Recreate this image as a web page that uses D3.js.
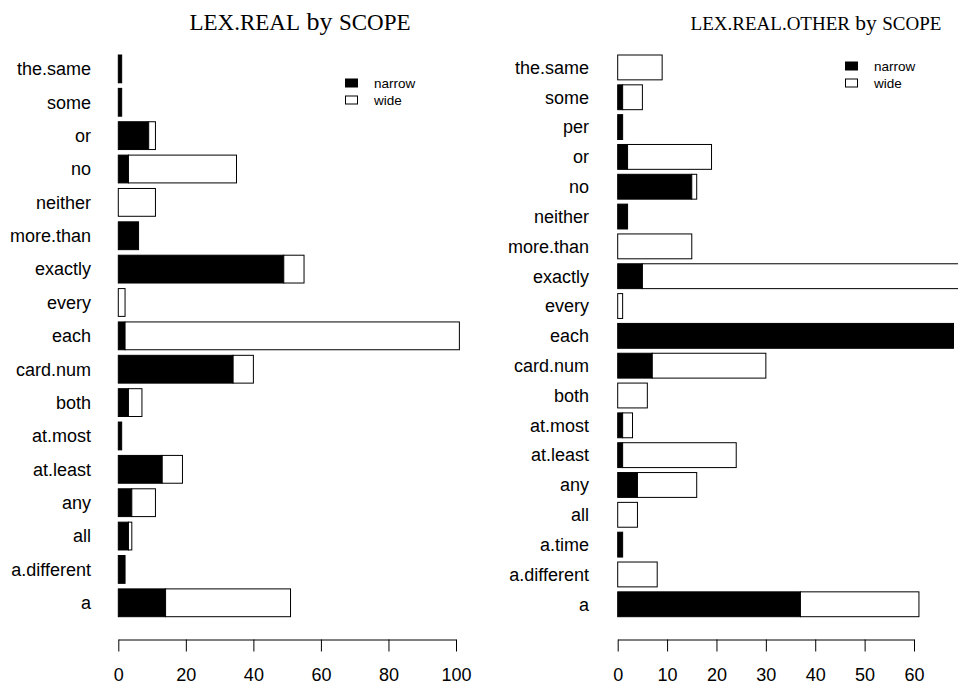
<!DOCTYPE html>
<html>
<head>
<meta charset="utf-8">
<script src="https://cdn.jsdelivr.net/npm/d3@7"></script>
<style>
  body { margin: 0; background: #fff; }
  text { fill: #000; }
</style>
</head>
<body>
<svg id="chart" width="958" height="685"></svg>
<script>
// categories, top to bottom
var realCats = ["the.same", "some", "or", "no", "neither", "more.than", "exactly", "every",
  "each", "card.num", "both", "at.most", "at.least", "any", "all", "a.different", "a"];
var realNarrow = [1, 1, 9, 3, 0, 6, 49, 0, 2, 34, 3, 1, 13, 4, 3, 2, 14];
var realWide   = [0, 0, 2, 32, 11, 0, 6, 2, 99, 6, 4, 0, 6, 7, 1, 0, 37];

var otherCats = ["the.same", "some", "per", "or", "no", "neither", "more.than", "exactly", "every",
  "each", "card.num", "both", "at.most", "at.least", "any", "all", "a.time", "a.different", "a"];
var otherNarrow = [0, 1, 1, 2, 15, 2, 0, 5, 0, 68, 7, 0, 1, 1, 4, 0, 1, 0, 37];
var otherWide   = [9, 4, 0, 17, 1, 0, 15, 75, 1, 0, 23, 6, 2, 23, 12, 4, 0, 8, 24];

var realTicks = [0, 20, 40, 60, 80, 100];
var otherTicks = [0, 10, 20, 30, 40, 50, 60];

var legendKeys = ["narrow", "wide"];

var svg = d3.select("#chart");

// one panel = one horizontal stacked barplot
function panel(opts) {
  var data = opts.cats.map(function(c, i) {
    return {cat: c, narrow: opts.narrow[i], wide: opts.wide[i]};
  });

  var x = d3.scaleLinear()
    .domain([0, opts.ticks[opts.ticks.length - 1]])
    .range([opts.x0, opts.x1]);

  var y = d3.scaleBand()
    .domain(opts.cats)
    .range([55, 616.7])
    .paddingInner(1 / 6)
    .paddingOuter(0);

  var g = svg.append("g");

  // draw narrow part
  g.selectAll(".narrow")
    .data(data)
    .enter().append("rect")
    .attr("class", "narrow")
    .attr("x", x(0))
    .attr("y", function(d) { return y(d.cat); })
    .attr("width", function(d) { return x(d.narrow) - x(0); })
    .attr("height", y.bandwidth())
    .attr("fill", "#000")
    .attr("stroke", "#000")
    .attr("stroke-width", 1);

  // draw wide part on top of it
  g.selectAll(".wide")
    .data(data)
    .enter().append("rect")
    .attr("class", "wide")
    .attr("x", function(d) { return x(d.narrow); })
    .attr("y", function(d) { return y(d.cat); })
    .attr("width", function(d) { return x(d.narrow + d.wide) - x(d.narrow); })
    .attr("height", y.bandwidth())
    .attr("fill", "#fff")
    .attr("stroke", "#000")
    .attr("stroke-width", 1);

  // category labels
  g.selectAll(".cat")
    .data(data)
    .enter().append("text")
    .attr("class", "cat")
    .attr("x", opts.labelX)
    .attr("y", function(d) { return y(d.cat) + y.bandwidth() / 2; })
    .attr("dy", "0.35em")
    .attr("text-anchor", "end")
    .style("font", "18px 'Liberation Sans', Arial, sans-serif")
    .text(function(d) { return d.cat; });

  // x axis, R style
  var xAxis = d3.axisBottom(x)
    .tickValues(opts.ticks)
    .tickSize(12)
    .tickPadding(17)
    .tickSizeOuter(0)
    .tickFormat(d3.format("d"));

  var ax = g.append("g")
    .attr("transform", "translate(0,639.5)")
    .call(xAxis);
  ax.select(".domain").attr("stroke", "#000");
  ax.selectAll(".tick line").attr("stroke", "#000");
  ax.selectAll(".tick text")
    .attr("fill", "#000")
    .style("font", "18px 'Liberation Sans', Arial, sans-serif");

  // title with small caps parts
  var title = g.append("text")
    .attr("x", opts.titleX)
    .attr("y", 30)
    .attr("text-anchor", "middle")
    .style("font-family", "'Liberation Serif', 'Times New Roman', serif");
  title.append("tspan").style("font-size", opts.capSize + "px").text(opts.titleA);
  title.append("tspan").style("font-size", opts.bySize + "px").text(" by ");
  title.append("tspan").style("font-size", opts.capSize + "px").text("SCOPE");

  // legend
  var legend = g.selectAll(".legend")
    .data(legendKeys)
    .enter().append("g")
    .attr("class", "legend")
    .attr("transform", function(d, i) { return "translate(" + opts.legX + "," + (opts.legY + i * 17) + ")"; });

  legend.append("rect")
    .attr("x", 0.5)
    .attr("y", -4)
    .attr("width", 12)
    .attr("height", 8)
    .attr("fill", function(d) { return d == "narrow" ? "#000" : "#fff"; })
    .attr("stroke", "#000")
    .attr("stroke-width", 1);

  legend.append("text")
    .attr("x", 29)
    .attr("y", 0)
    .attr("dy", "0.35em")
    .style("font", "13.5px 'Liberation Sans', Arial, sans-serif")
    .text(function(d) { return d; });
}

panel({cats: realCats, narrow: realNarrow, wide: realWide, ticks: realTicks,
  x0: 118.3, x1: 456, labelX: 91, titleX: 300, titleA: "LEX.REAL", capSize: 23, bySize: 26,
  legX: 345, legY: 83});

panel({cats: otherCats, narrow: otherNarrow, wide: otherWide, ticks: otherTicks,
  x0: 617.7, x1: 914, labelX: 589, titleX: 816, titleA: "LEX.REAL.OTHER", capSize: 19, bySize: 21.5,
  legX: 845, legY: 66});
</script>
</body>
</html>
